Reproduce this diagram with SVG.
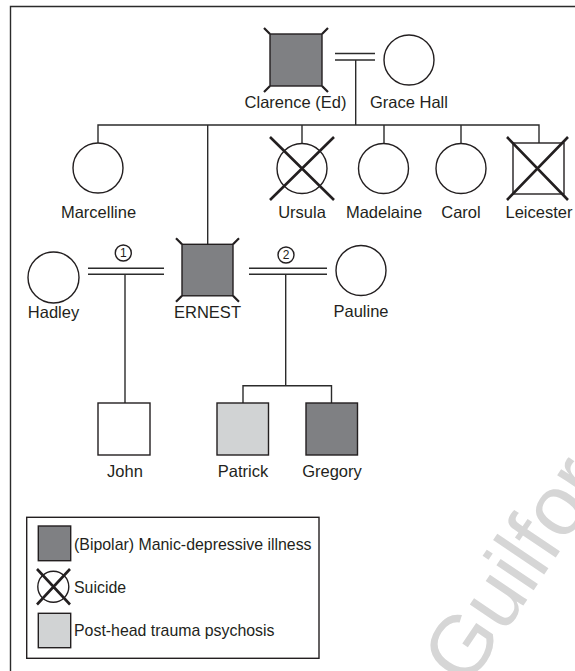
<svg xmlns="http://www.w3.org/2000/svg" width="575" height="671" viewBox="0 0 575 671">
<style>
.ln{stroke:#2b2b2b;stroke-width:1.4;fill:none}
.sym{stroke:#231f20;stroke-width:1.4;fill:#fff}
.dark{fill:#7f8083}
.light{fill:#d1d3d4}
.x{stroke:#231f20;stroke-width:2.6;fill:none}
.tk{stroke:#231f20;stroke-width:2.2}
.lbl{font-family:"Liberation Sans",Arial,sans-serif;font-size:16.5px;fill:#231f20;text-anchor:middle}
.leg{font-family:"Liberation Sans",Arial,sans-serif;font-size:15.9px;fill:#231f20}
.num{font-family:"Liberation Sans",Arial,sans-serif;font-size:12px;fill:#231f20;text-anchor:middle}
.wm{font-family:"Liberation Sans",Arial,sans-serif;font-size:85px;fill:#d6d6d6}
</style>
<rect width="575" height="671" fill="#fff"/>
<text class="wm" transform="translate(467,689) rotate(-56)">Guilford</text>
<path class="ln" d="M10.5,690 V6.5 H600" stroke-width="1.6"/>
<g id="connectors">
  <path class="ln" d="M335,53.5 H375 M335,60 H375 M355.7,60 V125"/>
  <path class="ln" d="M98,143 V125 H539 V143 M207.7,125 V244 M302,125 V143 M384,125 V143 M461,125 V143"/>
  <path class="ln" d="M88,268.3 H164 M88,274.3 H164 M125,274.3 V403"/>
  <path class="ln" d="M249,268.3 H327 M249,274.3 H327 M285.7,274.3 V385.7 M243,403 V385.7 H331.5 V403"/>
  <circle class="sym" cx="123.3" cy="253" r="8" stroke-width="1.1"/>
  <text class="num" x="123.3" y="257.3">1</text>
  <circle class="sym" cx="286" cy="255" r="8" stroke-width="1.1"/>
  <text class="num" x="286" y="259.3">2</text>
</g>
<g id="clarence">
  <rect class="sym dark" x="270" y="34" width="52" height="52"/>
  <path class="tk" d="M270,34 l-6,-6 M322,34 l6,-6 M270,86 l-6,6 M322,86 l6,6"/>
  <text class="lbl" x="295.5" y="108">Clarence (Ed)</text>
</g>
<g id="grace">
  <circle class="sym" cx="409" cy="60" r="25"/>
  <text class="lbl" x="409" y="108">Grace Hall</text>
</g>
<g id="marcelline">
  <circle class="sym" cx="98" cy="168" r="25"/>
  <text class="lbl" x="98.5" y="218">Marcelline</text>
</g>
<g id="ursula">
  <circle class="sym" cx="302" cy="168.5" r="25"/>
  <path class="x" d="M270,137 L334,200 M334,137 L270,200"/>
  <text class="lbl" x="302" y="218">Ursula</text>
</g>
<g id="madelaine">
  <circle class="sym" cx="383.5" cy="168.5" r="25"/>
  <text class="lbl" x="384" y="218">Madelaine</text>
</g>
<g id="carol">
  <circle class="sym" cx="461" cy="168.5" r="25"/>
  <text class="lbl" x="461" y="218">Carol</text>
</g>
<g id="leicester">
  <rect class="sym" x="513" y="143" width="51" height="51" stroke="#555"/>
  <path class="x" d="M507,137 L568,200 M568,137 L507,200"/>
  <text class="lbl" x="539" y="218">Leicester</text>
</g>
<g id="hadley">
  <circle class="sym" cx="53.5" cy="277.5" r="25.5"/>
  <text class="lbl" x="53.5" y="318">Hadley</text>
</g>
<g id="ernest">
  <rect class="sym dark" x="182" y="244.3" width="51" height="51.5"/>
  <path class="tk" d="M182,244.3 l-6,-6 M233,244.3 l6,-6 M182,295.8 l-6,6 M233,295.8 l6,6"/>
  <text class="lbl" x="207.5" y="318">ERNEST</text>
</g>
<g id="pauline">
  <circle class="sym" cx="361" cy="270.5" r="25"/>
  <text class="lbl" x="361" y="317">Pauline</text>
</g>
<g id="john">
  <rect class="sym" x="98" y="403" width="52" height="52"/>
  <text class="lbl" x="125" y="477">John</text>
</g>
<g id="patrick">
  <rect class="sym light" x="217" y="403" width="51.5" height="52"/>
  <text class="lbl" x="243" y="477">Patrick</text>
</g>
<g id="gregory">
  <rect class="sym dark" x="306" y="403" width="51.5" height="52"/>
  <text class="lbl" x="332" y="477">Gregory</text>
</g>
<g id="legend">
  <rect class="sym" x="26.7" y="517.3" width="292.3" height="141"/>
  <rect class="sym dark" x="38.3" y="526" width="32.4" height="34.7"/>
  <text class="leg" x="74" y="550">(Bipolar) Manic-depressive illness</text>
  <circle class="sym" cx="53.3" cy="586.7" r="15.5"/>
  <path class="x" d="M37,569 L70,604.5 M70,569 L37,604.5" stroke-width="2.3"/>
  <text class="leg" x="74" y="592.7">Suicide</text>
  <rect class="sym light" x="38.3" y="613.3" width="32.4" height="34.4"/>
  <text class="leg" x="74" y="635.7">Post-head trauma psychosis</text>
</g>
</svg>
